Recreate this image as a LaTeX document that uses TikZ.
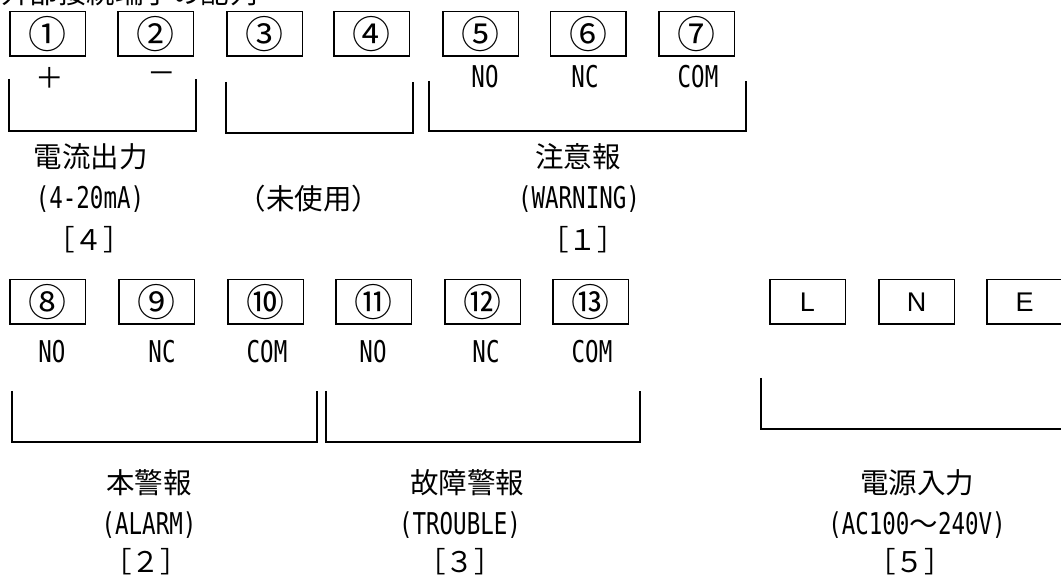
\documentclass[tikz,border=0pt]{standalone}
\usepackage{fontspec}
\newfontfamily\jp{Noto Sans CJK JP}
\newfontfamily\lat[FakeStretch=0.75]{DejaVu Sans Mono}
\newfontfamily\arl{Liberation Sans}
\begin{document}
\begin{tikzpicture}[x=1pt,y=-1pt,
  tbox/.style={draw,line width=1.5pt,minimum width=75.5pt,minimum height=44.5pt,inner sep=0pt,font=\jp\fontsize{38}{38}\selectfont},
  abox/.style={tbox,font=\arl\fontsize{27}{27}\selectfont},
  lbl/.style={inner sep=0pt,font=\lat\fontsize{30}{30}\selectfont},
  jtxt/.style={inner sep=0pt,font=\jp\fontsize{28.5}{28.5}\selectfont},
  brk/.style={line width=1.5pt}]
\useasboundingbox (0,0) rectangle (1061,577);
\clip (0,0) rectangle (1061,577);
% title (cut off at the top)
\node[jtxt,anchor=south west] (title) at (1,6.5) {外部接続端子の配列};
% top row terminals
\node[tbox] (t1) at (47.5,34) {①};
\node[tbox] (t2) at (155.5,34) {②};
\node[tbox] (t3) at (264.5,34) {③};
\node[tbox] (t4) at (371.5,34) {④};
\node[tbox] (t5) at (480.5,34) {⑤};
\node[tbox] (t6) at (588,34) {⑥};
\node[tbox] (t7) at (696.5,34) {⑦};
\node[jtxt] (p1) at (50,78) {＋};
\node[jtxt] (m2) at (162,78) {－};
\node[lbl] (no5) at (485,77) {NO};
\node[lbl] (nc6) at (585,77) {NC};
\node[lbl] (com7) at (698,77) {COM};
\draw[brk] (9,79) -- (9,131) -- (196,131) -- (196,79);
\draw[brk] (226,82) -- (226,133) -- (413,133) -- (413,82);
\draw[brk] (429,81) -- (429,131) -- (746,131) -- (746,81);
\node[jtxt] (g1a) at (91,157) {電流出力};
\node[lbl] (g1b) at (90,199) {(4-20mA)};
\node[jtxt] (g1c) at (89,240) {［４］};
\node[jtxt] (g2) at (309,199) {（未使用）};
\node[jtxt] (g3a) at (578,157) {注意報};
\node[lbl] (g3b) at (579,199) {(WARNING)};
\node[jtxt] (g3c) at (583,240) {［１］};
% bottom row terminals
\node[tbox] (t8) at (47.5,302) {⑧};
\node[tbox] (t9) at (156.5,302) {⑨};
\node[tbox] (t10) at (265.5,302) {⑩};
\node[tbox] (t11) at (373.5,302) {⑪};
\node[tbox] (t12) at (482.5,302) {⑫};
\node[tbox] (t13) at (590.5,302) {⑬};
\node[abox] (tL) at (807.5,302) {L};
\node[abox] (tN) at (916.5,302) {N};
\node[abox] (tE) at (1024.5,302) {E};
\node[lbl] (no8) at (52,352) {NO};
\node[lbl] (nc9) at (162,352) {NC};
\node[lbl] (com10) at (267,352) {COM};
\node[lbl] (no11) at (373,352) {NO};
\node[lbl] (nc12) at (486,352) {NC};
\node[lbl] (com13) at (592,352) {COM};
\draw[brk] (12,391) -- (12,442) -- (317,442) -- (317,391);
\draw[brk] (326,391) -- (326,442) -- (640,442) -- (640,391);
\draw[brk] (761,378) -- (761,429) -- (1065,429);
\node[jtxt] (g4a) at (149,483) {本警報};
\node[lbl] (g4b) at (149,525) {(ALARM)};
\node[jtxt] (g4c) at (146,562) {［２］};
\node[jtxt] (g5a) at (467,483) {故障警報};
\node[lbl] (g5b) at (460,525) {(TROUBLE)};
\node[jtxt] (g5c) at (460,562) {［３］};
\node[jtxt] (g6a) at (917,483) {電源入力};
\node[lbl] (g6b) at (917,525) {(AC100{\jp\fontsize{28.5}{28.5}\selectfont ～}240V)};
\node[jtxt] (g6c) at (910,562) {［５］};
\end{tikzpicture}
\end{document}
